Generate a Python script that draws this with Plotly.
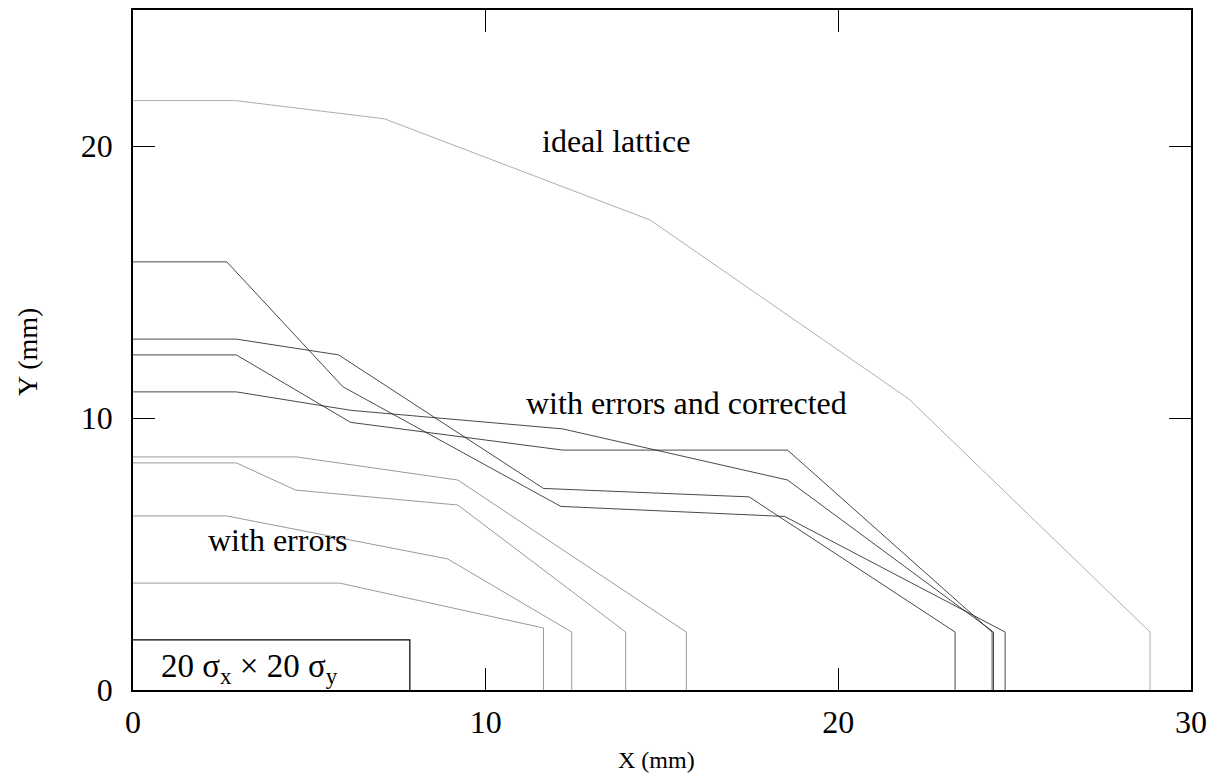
import plotly.graph_objects as go

# Ideal lattice aperture
ideal_x = [0, 2.9, 7.13, 14.66, 22.0, 28.84, 28.84]
ideal_y = [21.67, 21.67, 21.0, 17.28, 10.7, 2.13, 0]

# With errors and corrected (4 seeds)
corr_x = [
    [0, 2.66, 5.95, 12.13, 18.48, 24.73, 24.73],
    [0, 2.93, 5.83, 11.64, 17.47, 23.31, 23.31],
    [0, 2.93, 6.17, 12.18, 18.56, 24.36, 24.36],
    [0, 2.93, 6.19, 12.18, 18.56, 24.40, 24.40],
]
corr_y = [
    [15.74, 15.74, 11.15, 6.75, 6.38, 2.13, 0],
    [12.90, 12.90, 12.32, 7.41, 7.10, 2.13, 0],
    [12.32, 12.32, 9.84, 8.82, 8.82, 2.13, 0],
    [10.96, 10.96, 10.28, 9.60, 7.72, 2.13, 0],
]

# With errors, uncorrected (4 seeds)
err_x = [
    [0, 4.63, 9.21, 15.69, 15.69],
    [0, 2.93, 4.61, 9.21, 13.97, 13.97],
    [0, 2.65, 8.92, 12.44, 12.44],
    [0, 5.86, 11.64, 11.64],
]
err_y = [
    [8.57, 8.57, 7.72, 2.13, 0],
    [8.35, 8.35, 7.35, 6.80, 2.13, 0],
    [6.40, 6.40, 4.82, 2.13, 0],
    [3.93, 3.93, 2.28, 0],
]

# Beam size box 20 sigma_x x 20 sigma_y
box_x = [0, 7.85, 7.85]
box_y = [1.84, 1.84, 0]

x_ticks = [0, 10, 20, 30]
y_ticks = [0, 10, 20]

FONT = "Liberation Serif, Times New Roman, serif"

fig = go.Figure()

fig.add_trace(go.Scatter(x=ideal_x, y=ideal_y, mode="lines",
                         line=dict(color="#999999", width=0.8), showlegend=False))
for xs, ys in zip(err_x, err_y):
    fig.add_trace(go.Scatter(x=xs, y=ys, mode="lines",
                             line=dict(color="#808080", width=0.8), showlegend=False))
for xs, ys in zip(corr_x, corr_y):
    fig.add_trace(go.Scatter(x=xs, y=ys, mode="lines",
                             line=dict(color="#1a1a1a", width=0.8), showlegend=False))
fig.add_trace(go.Scatter(x=box_x, y=box_y, mode="lines",
                         line=dict(color="black", width=1.2), showlegend=False))

fig.add_annotation(x=13.7, y=20.2, text="ideal lattice", showarrow=False,
                   font=dict(family=FONT, size=32, color="black"))
fig.add_annotation(x=15.7, y=10.55, text="with errors and corrected", showarrow=False,
                   font=dict(family=FONT, size=32, color="black"))
fig.add_annotation(x=4.1, y=5.5, text="with errors", showarrow=False,
                   font=dict(family=FONT, size=32, color="black"))
fig.add_annotation(x=3.3, y=0.8, text="20 σ<sub>x</sub> × 20 σ<sub>y</sub>", showarrow=False,
                   font=dict(family=FONT, size=33, color="black"))

# Axis titles
fig.add_annotation(xref="paper", yref="paper", x=0.495, y=0, yshift=-70,
                   yanchor="middle", text="X (mm)", showarrow=False,
                   font=dict(family=FONT, size=24, color="black"))
fig.add_annotation(xref="paper", yref="paper", x=0, y=0.497, xshift=-106,
                   xanchor="center", text="Y (mm)", textangle=-90, showarrow=False,
                   font=dict(family=FONT, size=28, color="black"))

axis_common = dict(showgrid=False, zeroline=False, showline=True, linecolor="black",
                   linewidth=1.5, mirror="ticks", ticks="inside", ticklen=22,
                   tickwidth=1.2, tickcolor="black", automargin=False,
                   tickfont=dict(family=FONT, size=32, color="black"))

fig.update_xaxes(range=[0, 30], tickvals=x_ticks, ticktext=[str(v) for v in x_ticks],
                 ticklabelstandoff=3, **axis_common)
fig.update_yaxes(range=[0, 25], tickvals=y_ticks, ticktext=[str(v) for v in y_ticks],
                 ticklabelstandoff=12, **axis_common)

fig.update_layout(width=1200, height=767, plot_bgcolor="white", paper_bgcolor="white",
                  margin=dict(l=125, r=17, t=2, b=85))

fig.write_html("out.html")
